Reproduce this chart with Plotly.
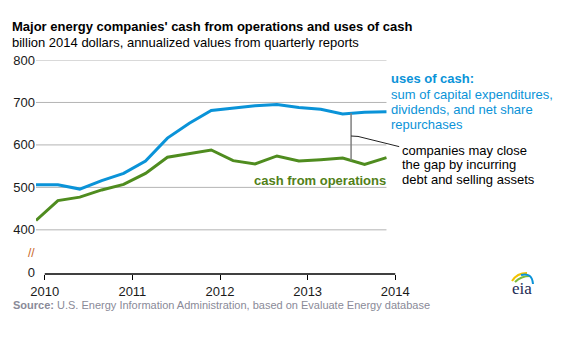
import numpy as np
import plotly.graph_objects as go

# ---------------- data ----------------
quarters = [2009.9, 2010.15, 2010.4, 2010.65, 2010.9, 2011.15, 2011.4, 2011.65, 2011.9,
            2012.15, 2012.4, 2012.65, 2012.9, 2013.15, 2013.4, 2013.65, 2013.9]
uses_of_cash = [506, 506, 496, 516, 533, 562, 616, 651, 681, 686, 692, 695, 688, 684, 673, 677, 678]
cash_from_ops = [422, 469, 477, 494, 507, 533, 571, 579, 588, 563, 555, 574, 562, 565, 569, 554, 570]

year_ticks = [2010, 2011, 2012, 2013, 2014]
y_tickvals = [300, 400, 500, 600, 700, 800]
y_ticktext = ["0", "400", "500", "600", "700", "800"]
grid_vals = [400, 500, 600, 700, 800]

BLUE = "#0a93d8"
GREEN = "#4f8c1f"
GREEN_TXT = "#527f18"
FONT = "Liberation Sans, Arial, sans-serif"

W_FIG, H_FIG = 575, 339
L, T, PW, PH = 36, 60, 368, 214
XR = [2009.9, 2014.1]
YR = [296, 800]


def px(xp):
    return (xp - L) / PW


def py(yp):
    return (T + PH - yp) / PH


fig = go.Figure()
fig.add_trace(go.Scatter(x=quarters, y=uses_of_cash, mode="lines",
                         line=dict(color=BLUE, width=3), hoverinfo="skip"))
fig.add_trace(go.Scatter(x=quarters, y=cash_from_ops, mode="lines",
                         line=dict(color=GREEN, width=3), hoverinfo="skip"))

shapes = []
# gridlines spanning the data extent
for g in grid_vals:
    shapes.append(dict(type="line", xref="x", yref="y", x0=quarters[0], x1=quarters[-1],
                       y0=g, y1=g, line=dict(color="#b4b4b4", width=1), layer="below"))
# x axis line from first to last year tick
fx0 = (year_ticks[0] - XR[0]) / (XR[1] - XR[0])
fx1 = (year_ticks[-1] - XR[0]) / (XR[1] - XR[0])
shapes.append(dict(type="line", xref="x domain", yref="paper", x0=fx0, x1=fx1, y0=0, y1=0,
                   line=dict(color="#000000", width=1.5)))

# gap connector
gap_x = 2013.496
g_top = float(np.interp(gap_x, quarters, uses_of_cash))
g_bot = float(np.interp(gap_x, quarters, cash_from_ops))
shapes.append(dict(type="line", xref="x", yref="y", x0=gap_x, x1=gap_x, y0=g_bot, y1=g_top,
                   line=dict(color="#7f7f7f", width=1.5)))
shapes.append(dict(type="path", xref="x", yref="y",
                   path=f"M {gap_x} 621 L 2013.575 620 L 2014.045 596",
                   line=dict(color="#222222", width=1)))

# eia logo arcs (paper coords)
def arc(x0, y0, cx, cy, x1, y1):
    return f"M {px(x0)} {py(y0)} Q {px(cx)} {py(cy)} {px(x1)} {py(y1)}"

shapes.append(dict(type="path", xref="paper", yref="paper", path=arc(512, 281, 517, 273, 527, 273),
                   line=dict(color="#f2c200", width=2)))
shapes.append(dict(type="path", xref="paper", yref="paper", path=arc(515, 282, 521, 276, 530, 276),
                   line=dict(color="#7dbb3a", width=2)))
shapes.append(dict(type="path", xref="paper", yref="paper", path=arc(521, 275, 532, 272, 533, 284),
                   line=dict(color="#0a93d8", width=2)))

ann = []


def text(x, y, s, size=13, color="#000000", anchor="left", bold=False, family=FONT):
    ann.append(dict(xref="paper", yref="paper", x=px(x), y=py(y), text=(f"<b>{s}</b>" if bold else s),
                    showarrow=False, xanchor=anchor, yanchor="middle",
                    font=dict(size=size, color=color, family=family)))


text(10, 27, "Major energy companies' cash from operations and uses of cash", size=13, bold=True)
text(10, 43, "billion 2014 dollars, annualized values from quarterly reports", size=13)

text(389, 79, "uses of cash:", size=13, color=BLUE, bold=True)
text(389, 94, "sum of capital expenditures,", size=13, color=BLUE)
text(389, 109, "dividends, and net share", size=13, color=BLUE)
text(389, 124, "repurchases", size=13, color=BLUE)

text(400, 150, "companies may close", size=13)
text(400, 164.5, "the gap by incurring", size=13)
text(400, 179, "debt and selling assets", size=13)

text(388, 180, "cash from operations", size=13, color=GREEN_TXT, anchor="right", bold=True)

text(31, 253, "//", size=12, color="#c8641e", anchor="center")

text(11, 305, "<b>Source:</b> U.S. Energy Information Administration, based on Evaluate Energy database",
     size=11, color="#8a8a98")

text(522, 288, "eia", size=17, color="#1c2a55", anchor="center", family="Liberation Serif, serif")

fig.update_layout(
    width=W_FIG, height=H_FIG,
    margin=dict(l=L, r=W_FIG - L - PW, t=T, b=H_FIG - T - PH, pad=0),
    paper_bgcolor="white", plot_bgcolor="white",
    showlegend=False,
    font=dict(family=FONT, size=13, color="#1a1a1a"),
    xaxis=dict(range=XR, tickmode="array", tickvals=year_ticks, ticks="outside", ticklen=5,
               tickwidth=1, tickcolor="#000000", showgrid=False, showline=False, zeroline=False,
               tickfont=dict(size=13, color="#1a1a1a")),
    yaxis=dict(range=YR, tickmode="array", tickvals=y_tickvals, ticktext=y_ticktext,
               showgrid=False, showline=False, zeroline=False, ticks="",
               tickfont=dict(size=13, color="#1a1a1a")),
    shapes=shapes,
    annotations=ann,
)

fig.write_html("out.html")
